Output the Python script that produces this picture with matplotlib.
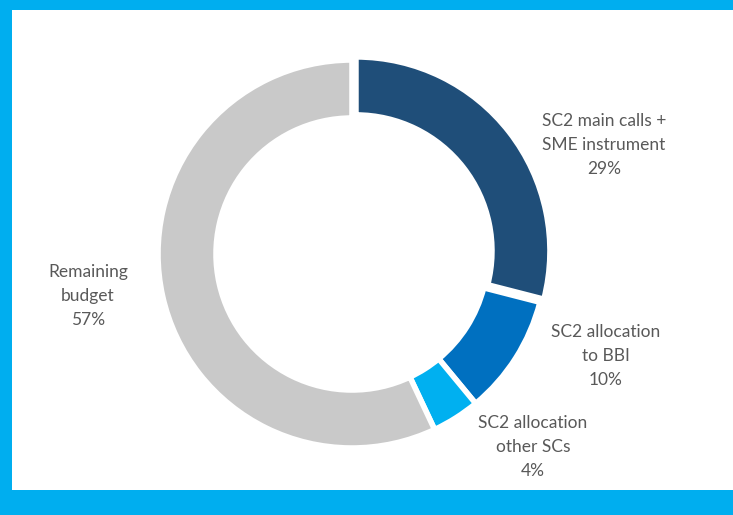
import matplotlib.pyplot as plt
from matplotlib.patches import Rectangle

# slice data, clockwise from the top
labels = ["SC2 main calls +\nSME instrument", "SC2 allocation\nto BBI",
          "SC2 allocation\nother SCs", "Remaining\nbudget"]
shares = [29, 10, 4, 57]
colors = ["#1F4E79", "#0070C0", "#00B0F0", "#C9C9C9"]

W, H = 733, 515
border = "#00AEEF"
text_col = "#595959"

fig = plt.figure(figsize=(W / 100, H / 100), dpi=100, facecolor=border)
ax = fig.add_axes([0, 0, 1, 1])
ax.set_facecolor(border)

# white panel (image coords -> y flipped)
ax.add_patch(Rectangle((12, H - 490), W - 12, 480, facecolor="white",
                       edgecolor="none", zorder=0))

cx, cy, R = 352, H - 254, 194
# explode is in data units here (pixels)
ax.pie(shares, colors=colors, startangle=90, counterclock=False,
       center=(cx, cy), radius=R, explode=[5, 0, 0, 0],
       wedgeprops=dict(width=58, edgecolor="white", linewidth=4),
       frame=True)

label_pos = [(604, 145), (606, 356), (533, 447), (88, 296)]
for lab, val, (x, y) in zip(labels, shares, label_pos):
    ax.text(x, H - y, f"{lab}\n{val}%", ha="center", va="center",
            fontsize=12.5, color=text_col, family="Lato", linespacing=1.65)

ax.set_xlim(0, W)
ax.set_ylim(0, H)
ax.set_aspect("equal")
ax.axis("off")

fig.savefig("out.png", dpi=100, facecolor=border)
